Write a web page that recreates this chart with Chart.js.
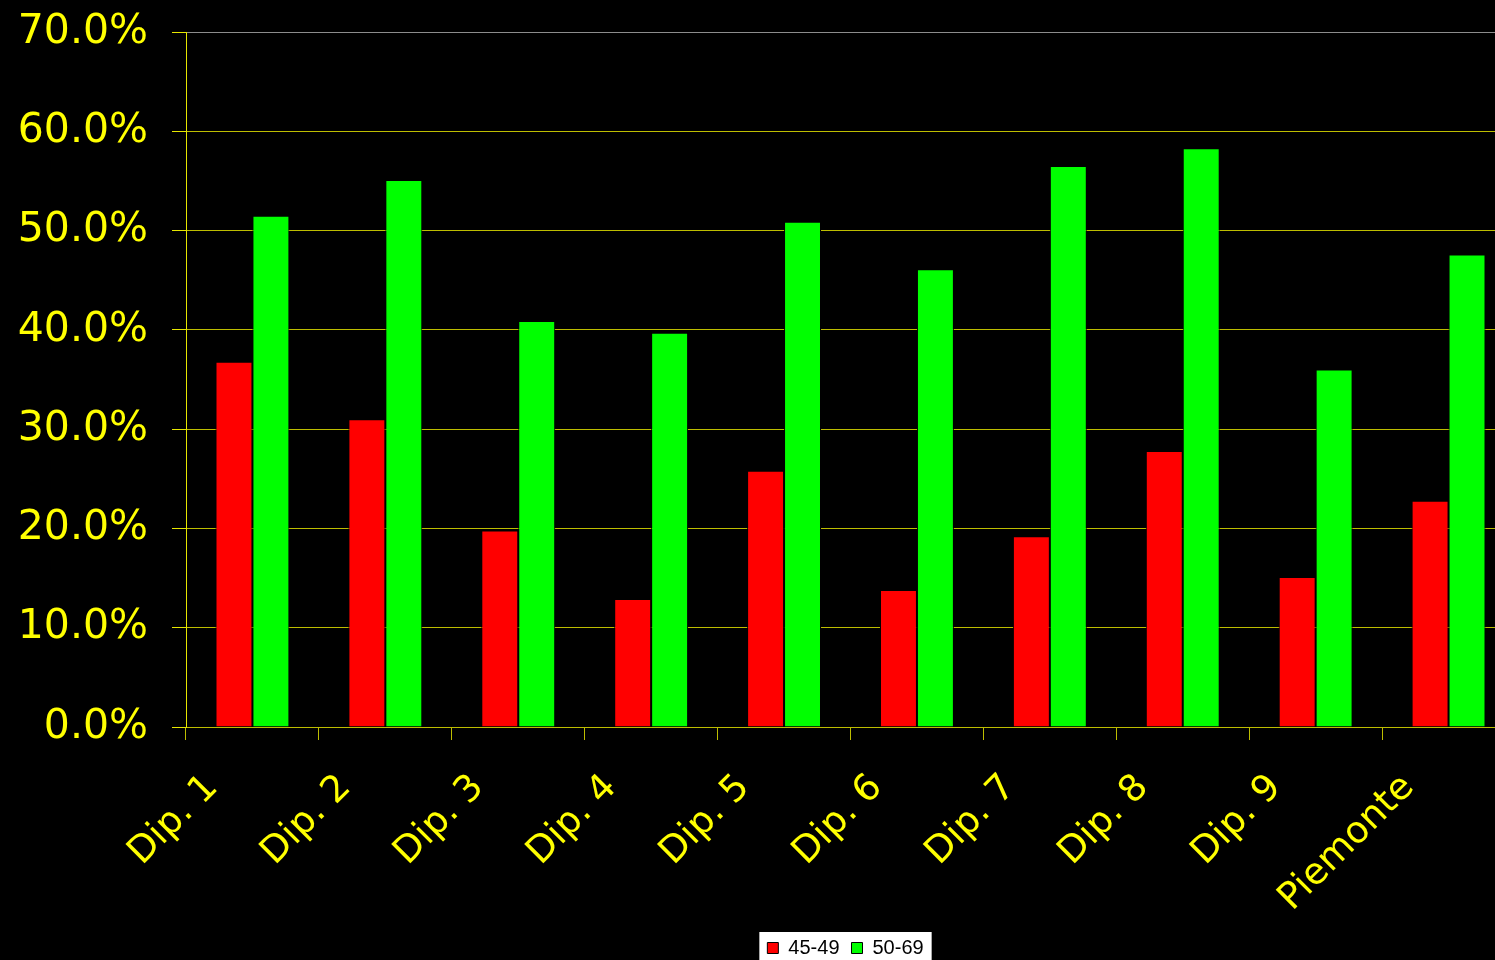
<!DOCTYPE html>
<html>
<head>
<meta charset="utf-8">
<script src="https://cdn.jsdelivr.net/npm/chart.js@4/dist/chart.umd.min.js"></script>
<style>
html,body{margin:0;padding:0;background:#000;overflow:hidden;}
#wrap{width:1516px;height:960px;}
</style>
</head>
<body>
<div id="wrap"><canvas id="c" width="1516" height="960"></canvas></div>
<script>
const categories = ['Dip. 1','Dip. 2','Dip. 3','Dip. 4','Dip. 5','Dip. 6','Dip. 7','Dip. 8','Dip. 9','Piemonte'];
const seriesNames = ['45-49','50-69'];
const values4549 = [36.8, 31.0, 19.8, 12.9, 25.8, 13.8, 19.2, 27.8, 15.1, 22.8];
const values5069 = [51.5, 55.1, 40.9, 39.7, 50.9, 46.1, 56.5, 58.3, 36.0, 47.6];
const yTicks = [0, 10, 20, 30, 40, 50, 60, 70];

const legendShift = {
  id: 'legendShift',
  afterUpdate(chart) {
    const lg = chart.legend;
    if (!lg) return;
    const dx = 88, dy = 8;
    lg.left += dx; lg.right += dx;
    lg.top += dy; lg.bottom += dy;
    (lg.legendHitBoxes || []).forEach(h => { h.left += dx; h.top += dy; });
  },
  beforeDraw(chart) {
    const lg = chart.legend;
    if (!lg || !lg.legendHitBoxes || !lg.legendHitBoxes.length) return;
    let l = Infinity, r = -Infinity, t = Infinity;
    lg.legendHitBoxes.forEach(h => {
      l = Math.min(l, h.left); r = Math.max(r, h.left + h.width);
      t = Math.min(t, h.top);
    });
    const ctx = chart.ctx;
    ctx.save();
    ctx.fillStyle = '#ffffff';
    ctx.fillRect(l - 8, t - 6, (r - l) + 16, 60);
    ctx.restore();
  }
};

new Chart(document.getElementById('c'), {
  type: 'bar',
  data: {
    labels: categories,
    datasets: [
      { label: seriesNames[0], data: values4549, backgroundColor: '#ff0000', borderColor: '#000000', borderWidth: 1 },
      { label: seriesNames[1], data: values5069, backgroundColor: '#00ff00', borderColor: '#000000', borderWidth: 1 }
    ]
  },
  options: {
    responsive: false,
    animation: false,
    devicePixelRatio: 1,
    layout: { padding: { left: 0, right: 1, top: 32, bottom: 0 } },
    datasets: { bar: { categoryPercentage: 0.556, barPercentage: 1.0 } },
    plugins: {
      legend: {
        position: 'bottom',
        labels: {
          color: '#000000',
          font: { family: 'Liberation Sans', size: 20 },
          boxWidth: 11, boxHeight: 11, padding: 12,
          useBorderRadius: false
        }
      },
      tooltip: { enabled: false }
    },
    scales: {
      x: {
        grid: { display: true, drawOnChartArea: false, drawTicks: true, tickLength: 13, color: '#bdbd00', offset: true },
        border: { display: true, color: '#bdbd00', width: 1 },
        ticks: {
          color: '#ffff00', maxRotation: 45, minRotation: 45, padding: 26, labelOffset: -40,
          font: { family: 'DejaVu Sans', size: 37 }
        },
        afterFit(s) { s.height = 191; s.paddingLeft = 0; s.paddingRight = 0; }
      },
      y: {
        min: 0, max: 70,
        afterBuildTicks(s) { s.ticks = yTicks.map(v => ({ value: v })); },
        grid: {
          color: ctx => (ctx.tick && ctx.tick.value === 70) ? '#8c8c8c' : '#bdbd00',
          tickColor: '#e6e600', tickLength: 14, lineWidth: 1
        },
        border: { display: true, color: '#e6e600', width: 1 },
        ticks: {
          color: '#ffff00', padding: 24,
          font: { family: 'DejaVu Sans', size: 41 },
          callback: v => Number(v).toFixed(1) + '%'
        },
        afterFit(s) { s.width = 186; s.paddingTop = 0; s.paddingBottom = 0; }
      }
    }
  },
  plugins: [legendShift]
});
</script>
</body>
</html>
